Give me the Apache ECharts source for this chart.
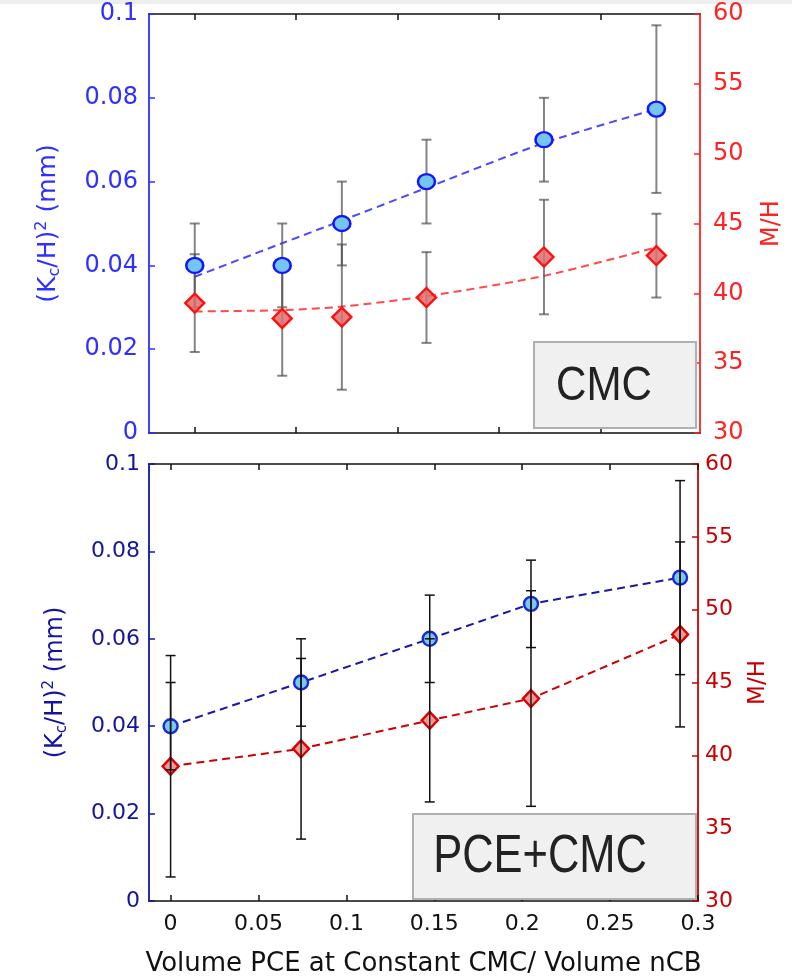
<!DOCTYPE html>
<html>
<head>
<meta charset="utf-8">
<script src="https://cdn.jsdelivr.net/npm/echarts@6/dist/echarts.min.js"></script>
<style>
html,body{margin:0;padding:0;background:#fff;}
#c{width:792px;height:978px;}
</style>
</head>
<body>
<div id="c"></div>
<script>
// ---- Top panel (CMC) ----
const xTop = [0, 0.0431, 0.0725, 0.1142, 0.1721, 0.2275];
const blueTop = [0.040, 0.040, 0.050, 0.060, 0.070, 0.0773];
const blueTopErr = [0.010, 0.010, 0.010, 0.010, 0.010, 0.020];
const redTop = [39.3, 38.2, 38.3, 39.7, 42.6, 42.7];
const redTopErr = [3.5, 4.1, 5.2, 3.25, 4.1, 3.0];
const blueFitTop = [0.0373, 0.0453, 0.0507, 0.0585, 0.0692, 0.0773];
const redFitTop = [38.7, 38.8, 39.05, 39.8, 41.25, 43.3];
const xTopTicks = [0, 0.05, 0.1, 0.15, 0.2];

// ---- Bottom panel (PCE+CMC) ----
const xBot = [0, 0.0742, 0.1474, 0.2050, 0.2898];
const blueBot = [0.040, 0.050, 0.060, 0.068, 0.074];
const blueBotErr = [0.010, 0.010, 0.010, 0.010, 0.0222];
const redBot = [39.25, 40.45, 42.4, 43.9, 48.3];
const redBotErr = [7.6, 6.2, 5.6, 7.4, 6.35];
const xBotTicks = [0, 0.05, 0.1, 0.15, 0.2, 0.25, 0.3];

const leftName = '(K{sub|c}/H){sup|2} (mm)';
const rightName = 'M/H';
const xName = 'Volume PCE at Constant CMC/ Volume nCB';
const box1Text = 'CMC';
const box2Text = 'PCE+CMC';

const FONT = '"DejaVu Sans", sans-serif';
const BOXFONT = '"Liberation Sans", Arial, sans-serif';
const C = {
  blue1: '#2f2fff', red1: '#ff2222',
  blue2: '#14149e', red2: '#c80000'
};

function errData(xs, ys, es) {
  return xs.map((x, i) => [x, ys[i] - es[i], ys[i] + es[i]]);
}
function pairs(xs, ys) { return xs.map((x, i) => [x, ys[i]]); }

function errSeries(name, xi, yi, data, color, width, z) {
  return {
    name, type: 'custom', xAxisIndex: xi, yAxisIndex: yi, z,
    encode: { x: 0, y: [1, 2] },
    data,
    renderItem: function (params, api) {
      const x = api.value(0), lo = api.value(1), hi = api.value(2);
      const a = api.coord([x, hi]), b = api.coord([x, lo]);
      const w = 5;
      const st = { stroke: color, lineWidth: width };
      return {
        type: 'group',
        children: [
          { type: 'line', shape: { x1: a[0], y1: a[1], x2: b[0], y2: b[1] }, style: st },
          { type: 'line', shape: { x1: a[0] - w, y1: a[1], x2: a[0] + w, y2: a[1] }, style: st },
          { type: 'line', shape: { x1: b[0] - w, y1: b[1], x2: b[0] + w, y2: b[1] }, style: st }
        ]
      };
    }
  };
}

function xAxisDef(gi, pos, min, max, ticks, showLabel) {
  return {
    type: 'value', gridIndex: gi, position: pos, min, max,
    axisLine: { show: true, onZero: false, lineStyle: { color: '#111', width: 1.5 } },
    axisTick: { show: true, inside: true, length: 6, customValues: ticks, lineStyle: { color: '#111', width: 1.5 } },
    axisLabel: showLabel ? { show: true, customValues: ticks, color: '#111', fontSize: 22, fontFamily: FONT, margin: 12,
      formatter: v => String(parseFloat(Number(v).toFixed(3))) } : { show: false },
    splitLine: { show: false }
  };
}

function yAxisDef(gi, pos, min, max, interval, color, labelSize, margin, name, nameGap, nameSize, rich) {
  return {
    type: 'value', gridIndex: gi, position: pos, min, max, interval,
    axisLine: { show: true, onZero: false, lineStyle: { color, width: 1.8 } },
    axisTick: { show: true, inside: true, length: 6, lineStyle: { color, width: 1.5 } },
    axisLabel: { color, fontSize: labelSize, fontFamily: FONT, margin,
      formatter: v => String(parseFloat(Number(v).toFixed(3))) },
    splitLine: { show: false },
    name, nameLocation: 'middle', nameRotate: 90, nameGap,
    nameTextStyle: { color, fontSize: nameSize, fontFamily: FONT, rich: rich || {} }
  };
}

const subsup = (size) => ({
  sub: { fontSize: size, fontFamily: FONT, padding: [14, 0, 0, 0] },
  sup: { fontSize: size, fontFamily: FONT, padding: [0, 0, 12, 0] }
});

const chart = echarts.init(document.getElementById('c'), null, { renderer: 'canvas' });

const option = {
  backgroundColor: '#ffffff',
  animation: false,
  grid: [
    { left: 149, top: 14, width: 554, height: 419 },
    { left: 149, top: 464, width: 549, height: 439 }
  ],
  xAxis: [
    xAxisDef(0, 'bottom', -0.02255, 0.249, xTopTicks, false),
    xAxisDef(0, 'top', -0.02255, 0.249, xTopTicks, false),
    Object.assign(xAxisDef(1, 'bottom', -0.01229, 0.3, xBotTicks, true), {
      name: xName, nameLocation: 'middle', nameGap: 50,
      nameTextStyle: { color: '#111', fontSize: 26, fontFamily: FONT }
    }),
    xAxisDef(1, 'top', -0.01229, 0.3, xBotTicks, false)
  ],
  yAxis: [
    yAxisDef(0, 'left', 0, 0.1, 0.02, C.blue1, 24, 11, leftName, 86, 25, subsup(16)),
    yAxisDef(0, 'right', 30, 60, 5, C.red1, 24, 13, rightName, 60, 24),
    yAxisDef(1, 'left', 0, 0.1, 0.02, C.blue2, 22, 9, leftName, 79, 24, subsup(15)),
    yAxisDef(1, 'right', 30, 60, 5, C.red2, 22, 7, rightName, 49, 23)
  ],
  series: [
    // top panel fit lines
    { type: 'line', xAxisIndex: 0, yAxisIndex: 0, data: pairs(xTop, blueFitTop), smooth: 0.3, showSymbol: false, z: 2,
      lineStyle: { color: '#4a4aff', width: 2, type: [8, 5] } },
    { type: 'line', xAxisIndex: 0, yAxisIndex: 1, data: pairs(xTop, redFitTop), smooth: 0.3, showSymbol: false, z: 2,
      lineStyle: { color: '#ff4a4a', width: 2, type: [8, 5] } },
    // top panel error bars (behind markers)
    errSeries('eb1', 0, 0, errData(xTop, blueTop, blueTopErr), 'rgba(80,80,80,0.7)', 2, 3),
    errSeries('er1', 0, 1, errData(xTop, redTop, redTopErr), 'rgba(80,80,80,0.7)', 2, 3),
    // top panel markers
    { type: 'scatter', xAxisIndex: 0, yAxisIndex: 0, data: pairs(xTop, blueTop), symbol: 'circle', symbolSize: [17, 15], z: 4,
      itemStyle: { color: '#72c6f0', borderColor: '#1414ff', borderWidth: 2.4, opacity: 1 } },
    { type: 'scatter', xAxisIndex: 0, yAxisIndex: 1, data: pairs(xTop, redTop), symbol: 'diamond', symbolSize: [19, 19], z: 4,
      itemStyle: { color: 'rgba(222,110,110,0.85)', borderColor: '#ff1010', borderWidth: 2.4, opacity: 1 } },

    // bottom panel lines
    { type: 'line', xAxisIndex: 2, yAxisIndex: 2, data: pairs(xBot, blueBot), showSymbol: false, z: 2,
      lineStyle: { color: '#1818a8', width: 2, type: [8, 5] } },
    { type: 'line', xAxisIndex: 2, yAxisIndex: 3, data: pairs(xBot, redBot), showSymbol: false, z: 2,
      lineStyle: { color: '#cc0000', width: 2, type: [8, 5] } },
    { type: 'scatter', xAxisIndex: 2, yAxisIndex: 2, data: pairs(xBot, blueBot), symbol: 'circle', symbolSize: 14, z: 3,
      itemStyle: { color: '#78c8f0', borderColor: '#1a2ad0', borderWidth: 2.4, opacity: 1 } },
    { type: 'scatter', xAxisIndex: 2, yAxisIndex: 3, data: pairs(xBot, redBot), symbol: 'diamond', symbolSize: [16, 17], z: 3,
      itemStyle: { color: '#ee9a9a', borderColor: '#dd0000', borderWidth: 2.4, opacity: 1 } },
    // bottom panel error bars (on top)
    errSeries('eb2', 2, 2, errData(xBot, blueBot, blueBotErr), '#111', 1.5, 5),
    errSeries('er2', 2, 3, errData(xBot, redBot, redBotErr), '#111', 1.5, 5)
  ],
  graphic: [
    { type: 'rect', left: 0, top: 0, shape: { width: 792, height: 4 }, style: { fill: '#eeeeee' }, silent: true },
    { type: 'rect', z: 10, shape: { x: 534, y: 342, width: 162, height: 86 },
      style: { fill: '#f0f0f0', stroke: '#b0b0b0', lineWidth: 2 } },
    { type: 'text', z: 11, x: 604, y: 386, scaleX: 0.86,
      style: { text: box1Text, fill: '#222', fontSize: 49, fontFamily: BOXFONT,
        align: 'center', verticalAlign: 'middle' } },
    { type: 'rect', z: 10, shape: { x: 413, y: 814, width: 283, height: 85 },
      style: { fill: '#f0f0f0', stroke: '#b0b0b0', lineWidth: 2 } },
    { type: 'text', z: 11, x: 540, y: 857, scaleX: 0.82,
      style: { text: box2Text, fill: '#222', fontSize: 53, fontFamily: BOXFONT,
        align: 'center', verticalAlign: 'middle' } }
  ]
};
chart.setOption(option);
</script>
</body>
</html>
